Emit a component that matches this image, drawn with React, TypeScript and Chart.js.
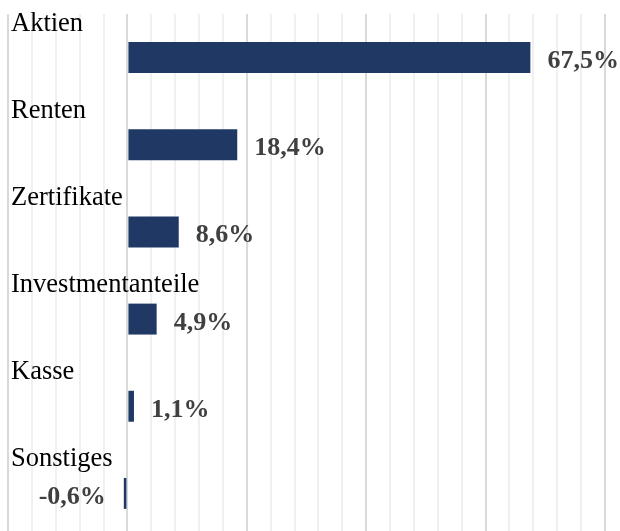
import React, { useEffect, useRef } from "react";
import { Chart, registerables } from "chart.js";

Chart.register(...registerables);

const categories = ["Aktien", "Renten", "Zertifikate", "Investmentanteile", "Kasse", "Sonstiges"];
const values = [67.5, 18.4, 8.6, 4.9, 1.1, -0.6];
const axisMin = -20;
const axisMax = 80;
const minorStep = 4;
const majorStep = 20;

const BAR_COLOR = "#1F3864";
const FONT = '"Liberation Serif", "Times New Roman", serif';

const labelPlugin = {
  id: "customLabels",
  afterDatasetsDraw(chart: any) {
    const ctx = chart.ctx;
    const yScale = chart.scales.y;
    const meta = chart.getDatasetMeta(0);
    ctx.save();
    // category labels above bars
    ctx.font = `26.5px ${FONT}`;
    ctx.fillStyle = "#000000";
    ctx.textAlign = "left";
    ctx.textBaseline = "alphabetic";
    categories.forEach((c, i) => {
      const y = yScale.getPixelForValue(i);
      ctx.fillText(c, 11, y - 27);
    });
    // value labels
    ctx.font = `bold 26px ${FONT}`;
    ctx.fillStyle = "#404040";
    meta.data.forEach((bar: any, i: number) => {
      const v = values[i];
      const txt = v.toFixed(1).replace(".", ",") + "%";
      const y = bar.y + 10.5;
      if (v >= 0) {
        ctx.textAlign = "left";
        ctx.fillText(txt, bar.x + 17, y);
      } else {
        ctx.textAlign = "right";
        ctx.fillText(txt, bar.x - 18, y);
      }
    });
    ctx.restore();
  },
};

export default function App() {
  const canvasRef = useRef<HTMLCanvasElement | null>(null);

  useEffect(() => {
    if (!canvasRef.current) return;
    const chart = new Chart(canvasRef.current, {
      type: "bar",
      data: {
        labels: categories,
        datasets: [
          {
            data: values,
            backgroundColor: BAR_COLOR,
            borderWidth: 0,
            barPercentage: 0.355,
            categoryPercentage: 1,
          },
        ],
      },
      options: {
        indexAxis: "y",
        animation: false,
        responsive: false,
        maintainAspectRatio: false,
        layout: { padding: { left: 8, right: 15, top: 14, bottom: 8 } },
        plugins: {
          legend: { display: false },
          tooltip: { enabled: false },
        },
        scales: {
          x: {
            min: axisMin,
            max: axisMax,
            ticks: { display: false, stepSize: minorStep },
            border: { display: false },
            grid: {
              drawTicks: false,
              lineWidth: 2,
              color: (c: any) =>
                c.tick && Math.round(c.tick.value) % majorStep === 0 ? "#d9d9d9" : "#f0f0f0",
            },
          },
          y: { display: false },
        },
      },
      plugins: [labelPlugin],
    });
    return () => chart.destroy();
  }, []);

  return (
    <div
      style={{
        position: "fixed",
        left: 0,
        top: 0,
        width: 620,
        height: 531,
        overflow: "hidden",
        background: "#ffffff",
      }}
    >
      <canvas ref={canvasRef} width={620} height={545} style={{ width: 620, height: 545, display: "block" }} />
    </div>
  );
}
